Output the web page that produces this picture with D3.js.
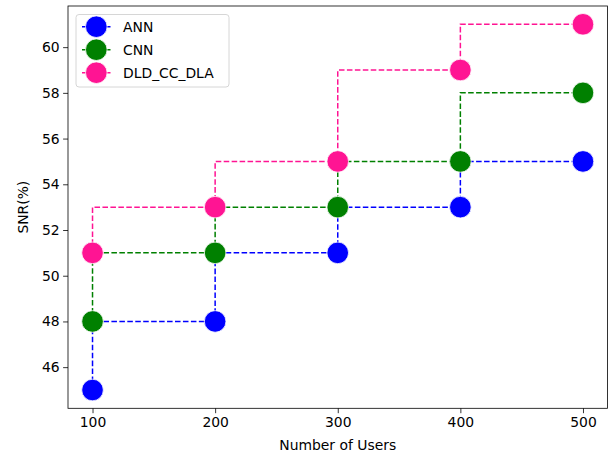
<!DOCTYPE html>
<head>
<meta charset="utf-8">
<title>SNR vs Number of Users</title>
<script src="https://d3js.org/d3.v7.min.js"></script>
<style>
	body { margin: 0; background: #fff; }
	text { font-family: "DejaVu Sans", sans-serif; }
</style>
</head>
<body>
<script type="text/javascript">
	var users = [100, 200, 300, 400, 500];
	var ann = [45, 48, 51, 53, 55];
	var cnn = [48, 51, 53, 55, 58];
	var dld = [51, 53, 55, 59, 61];
	var names = ["ANN", "CNN", "DLD_CC_DLA"];
	var colors = ["blue", "green", "#ff1493"];
	var xTicks = [100, 200, 300, 400, 500];
	var yTicks = [46, 48, 50, 52, 54, 56, 58, 60];

	var series = [ann, cnn, dld];

	var w = 611;
	var h = 459;
	var padL = 68, padR = 607.5, padT = 6, padB = 408.3;

	var svg = d3.select("body")
		.append("svg")
		.attr("width", w)
		.attr("height", h);

	var x = d3.scaleLinear().domain([80, 520]).range([padL, padR]);
	var y = d3.scaleLinear().domain([44.2, 61.8]).range([padB, padT]);

	// axes
	var xAxis = svg.append("g")
		.attr("transform", "translate(0," + padB + ")")
		.call(d3.axisBottom(x).tickValues(xTicks).tickSize(4.9).tickPadding(3.5));
	var yAxis = svg.append("g")
		.attr("transform", "translate(" + padL + ",0)")
		.call(d3.axisLeft(y).tickValues(yTicks).tickSize(4.9).tickPadding(3.5));

	[xAxis, yAxis].forEach(function(g){
		g.select(".domain").remove();
		g.selectAll(".tick line").attr("stroke", "#000").attr("stroke-width", 0.8);
		g.selectAll(".tick text").attr("font-size", "13.9px").attr("fill", "#000")
			.attr("font-family", "DejaVu Sans");
	});

	// lines and markers, drawn series by series like matplotlib
	var line = d3.line()
		.x(function(d, i){ return x(users[i]); })
		.y(function(d){ return y(d); })
		.curve(d3.curveStepBefore);

	series.forEach(function(vals, k){
		svg.append("path")
			.attr("d", line(vals))
			.attr("fill", "none")
			.attr("stroke", colors[k])
			.attr("stroke-width", 1.5)
			.attr("stroke-dasharray", "5.55,2.4");
		svg.selectAll("circle.s" + k)
			.data(vals)
			.enter()
			.append("circle")
			.attr("class", "s" + k)
			.attr("cx", function(d, i){ return x(users[i]); })
			.attr("cy", function(d){ return y(d); })
			.attr("r", 10.8)
			.attr("fill", colors[k])
			.attr("stroke", "#fff")
			.attr("stroke-width", 0.8);
	});

	// frame
	svg.append("rect")
		.attr("x", padL).attr("y", padT)
		.attr("width", padR - padL).attr("height", padB - padT)
		.attr("fill", "none")
		.attr("stroke", "#000")
		.attr("stroke-width", 0.8);

	// axis labels
	svg.append("text")
		.text("Number of Users")
		.attr("x", (padL + padR) / 2)
		.attr("y", 450)
		.attr("text-anchor", "middle")
		.attr("font-size", "13.9px");
	svg.append("text")
		.text("SNR(%)")
		.attr("transform", "translate(28," + (padT + padB) / 2 + ") rotate(-90)")
		.attr("text-anchor", "middle")
		.attr("font-size", "13.9px");

	// legend
	var lg = svg.append("g");
	lg.append("rect")
		.attr("x", 76).attr("y", 14.5)
		.attr("width", 153).attr("height", 72.5)
		.attr("rx", 3)
		.attr("fill", "#fff")
		.attr("fill-opacity", 0.8)
		.attr("stroke", "#ccc")
		.attr("stroke-width", 0.8);
	names.forEach(function(n, k){
		var ly = 26.7 + k * 23;
		lg.append("line")
			.attr("x1", 82).attr("x2", 110.5)
			.attr("y1", ly).attr("y2", ly)
			.attr("stroke", colors[k])
			.attr("stroke-width", 1.5)
			.attr("stroke-dasharray", "5.55,2.4");
		lg.append("circle")
			.attr("cx", 96.3).attr("cy", ly)
			.attr("r", 10.8)
			.attr("fill", colors[k])
			.attr("stroke", "#fff")
			.attr("stroke-width", 0.8);
		lg.append("text")
			.text(n)
			.attr("x", 123)
			.attr("y", ly + 5)
			.attr("font-size", "13.9px");
	});
</script>
</body>
